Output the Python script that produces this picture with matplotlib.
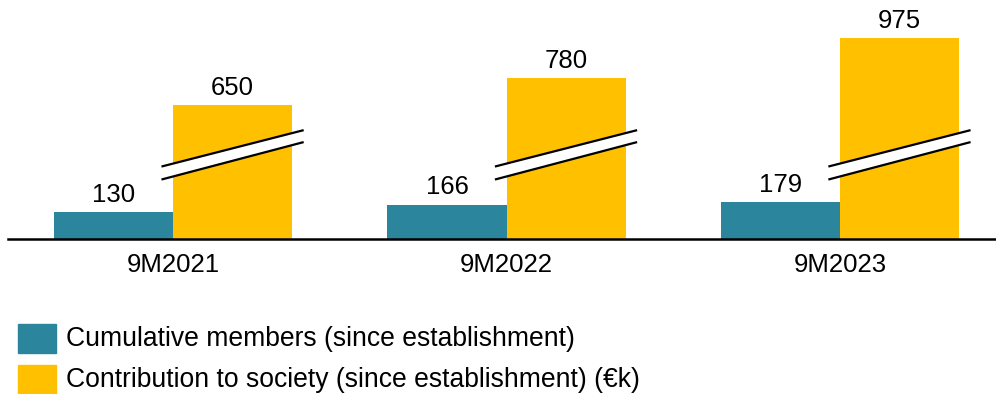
import matplotlib.pyplot as plt
from matplotlib.patches import Rectangle, Polygon

plt.rcParams['font.family'] = ['Liberation Sans', 'DejaVu Sans']

periods = ["9M2021", "9M2022", "9M2023"]
members = [130, 166, 179]
contribution = [650, 780, 975]
legend_labels = ["Cumulative members (since establishment)",
                 "Contribution to society (since establishment) (€k)"]

teal = "#2B869D"
yellow = "#FFC000"

fig = plt.figure(figsize=(9.96, 3.94), dpi=100)
W, H = 996, 394
base_px = 239
ax = fig.add_axes([8 / W, (H - base_px) / H, (W - 8) / W, base_px / H])

w = 0.357
x = list(range(len(periods)))
b1 = ax.bar([i - w / 2 for i in x], members, width=w, color=teal)
b2 = ax.bar([i + w / 2 for i in x], contribution, width=w, color=yellow)

ax.set_xlim(-0.495, 2.468)
ax.set_ylim(0, 1160)

for bars in (b1, b2):
    for r in bars:
        ax.annotate(f"{r.get_height():.0f}", (r.get_x() + r.get_width() / 2, r.get_height()),
                    xytext=(0, 4), textcoords="offset points",
                    ha="center", va="bottom", fontsize=18.5)

# break marks across the yellow bars
half = 0.21
for i in x:
    xc = i + w / 2
    up = [(xc - half, 353), (xc + half, 527)]
    lo = [(xc - half, 290), (xc + half, 469)]
    ax.add_patch(Polygon([up[0], up[1], lo[1], lo[0]], closed=True,
                         facecolor="white", edgecolor="none", zorder=3))
    ax.plot([p[0] for p in up], [p[1] for p in up], color="black", lw=1.6, zorder=4)
    ax.plot([p[0] for p in lo], [p[1] for p in lo], color="black", lw=1.6, zorder=4)

for s in ("top", "right", "left"):
    ax.spines[s].set_visible(False)
ax.spines["bottom"].set_linewidth(1.8)
ax.set_yticks([])
ax.set_xticks(x)
ax.set_xticklabels(periods, fontsize=18.5)
ax.tick_params(axis="x", length=0, pad=10)

# legend
for k, (lab, col) in enumerate(zip(legend_labels, [teal, yellow])):
    top = 324 + k * 41
    fig.add_artist(Rectangle((18 / W, (H - top - 29) / H), 38 / W, 29 / H,
                             transform=fig.transFigure, color=col))
    fig.text(66 / W, (H - top - 15) / H, lab, fontsize=19.1, va="center", ha="left")

fig.savefig("out.png", dpi=100)
